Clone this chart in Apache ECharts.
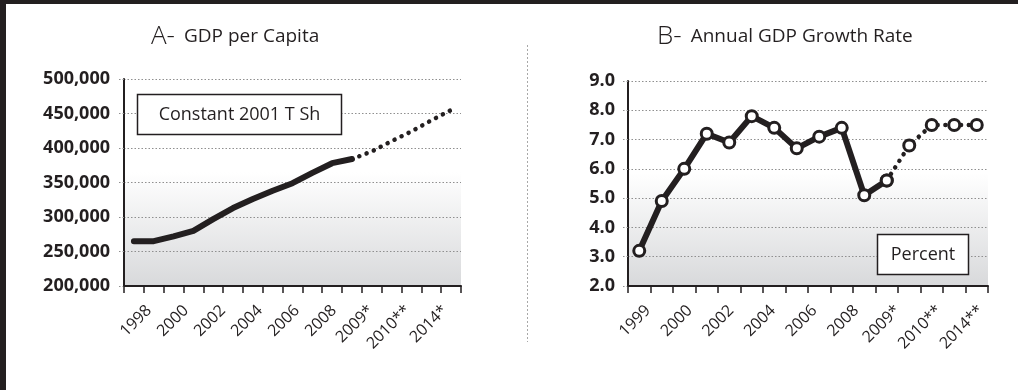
<!DOCTYPE html>
<html>
<head>
<meta charset="utf-8">
<script src="https://cdn.jsdelivr.net/npm/echarts@6/dist/echarts.min.js"></script>
<style>
  html, body { margin: 0; padding: 0; background: #ffffff; }
  #chart { width: 1018px; height: 390px; }
</style>
</head>
<body>
<div id="chart"></div>
<script>
// Panel A: GDP per capita, constant 2001 T Sh
const gdpYears = ['1998', '1999', '2000', '2001', '2002', '2003', '2004', '2005', '2006',
  '2007', '2008', '2009', '2010', '2011', '2012', '2013', '2014'];
const gdpPerCapita = [265000, 265000, 272000, 280000, 297000, 313000, 326000, 338000, 349000,
  364000, 378000, 384000, 395000, 410000, 424000, 440000, 455000];
const gdpLastActual = 11;            // later points are projections (dotted)
const gdpTickLabels = ['1998', '2000', '2002', '2004', '2006', '2008', '2009*', '2010**', '2014*'];

// Panel B: annual GDP growth rate, percent
const growthYears = ['1999', '2000', '2001', '2002', '2003', '2004', '2005', '2006',
  '2007', '2008', '2009', '2010', '2011', '2012', '2013', '2014'];
const growthRate = [3.2, 4.9, 6.0, 7.2, 6.9, 7.8, 7.4, 6.7, 7.1, 7.4, 5.1, 5.6, 6.8, 7.5, 7.5, 7.5];
const growthLastActual = 11;
const growthTickLabels = ['1999', '2000', '2002', '2004', '2006', '2008', '2009*', '2010**', '2014**'];

const ink = '#231f20';
const font = '"Open Sans", "Noto Sans", sans-serif';

const plotFill = new echarts.graphic.LinearGradient(0, 0, 0, 1, [
  { offset: 0, color: '#ffffff' },
  { offset: 0.45, color: '#ffffff' },
  { offset: 1, color: '#d8d9db' }
]);

const gridLine = { show: true, lineStyle: { color: '#8f8f8f', width: 1, type: [1.5, 2] } };

function valueAxis(gridIndex, min, max, interval, fmt, margin) {
  return {
    type: 'value', gridIndex, min, max, interval,
    axisLine: { show: true, lineStyle: { color: ink, width: 2 } },
    axisTick: { show: true, length: 7, lineStyle: { color: '#8f8f8f', width: 1, type: [1.5, 2] } },
    axisLabel: { formatter: fmt, margin, color: ink, fontFamily: font, fontWeight: 'bold', fontSize: 18 },
    splitLine: gridLine
  };
}

function dataAxis(gridIndex, cats) {
  return {
    type: 'category', gridIndex, data: cats, boundaryGap: true,
    axisLine: { show: true, lineStyle: { color: ink, width: 2 } },
    axisTick: { show: true, length: 7, interval: 0, lineStyle: { color: ink, width: 1.5 } },
    axisLabel: { show: false },
    splitLine: { show: false }
  };
}

function labelAxis(gridIndex, labels) {
  return {
    type: 'category', gridIndex, data: labels, boundaryGap: false,
    axisLine: { show: false }, axisTick: { show: false },
    axisLabel: { interval: 0, rotate: 45, margin: 22, color: ink, fontFamily: font, fontSize: 16 }
  };
}

function hiddenY(gridIndex) {
  return { type: 'value', gridIndex, show: false, min: 0, max: 1, splitLine: { show: false } };
}

function panelTitle(left, letter, name) {
  return {
    left, top: 19,
    text: '{big|' + letter + '}{small|' + name + '}',
    textStyle: {
      fontWeight: 'normal',
      rich: {
        big: { fontSize: 26, fontWeight: 300, color: ink, fontFamily: font, padding: [0, 9, 0, 0] },
        small: { fontSize: 19, fontWeight: 'normal', color: ink, fontFamily: font }
      }
    }
  };
}

const solidStyle = { color: ink, width: 6, cap: 'round', join: 'round' };
const dottedStyle = { color: ink, width: 4.5, type: [0.1, 7.7], cap: 'round', join: 'round' };
const ringMarker = { color: '#ffffff', borderColor: ink, borderWidth: 3 };

const option = {
  backgroundColor: '#ffffff',
  animation: false,
  textStyle: { fontFamily: font },
  title: [
    panelTitle(146, 'A-', 'GDP per Capita'),
    panelTitle(652, 'B-', 'Annual GDP Growth Rate')
  ],
  grid: [
    { left: 124, top: 79, width: 337, height: 207, show: true, backgroundColor: plotFill, borderWidth: 0 },
    { left: 628, top: 81, width: 360, height: 205, show: true, backgroundColor: plotFill, borderWidth: 0 },
    { left: 149, top: 79, width: 296, height: 207 },
    { left: 648, top: 81, width: 333, height: 205 }
  ],
  xAxis: [
    dataAxis(0, gdpYears),
    dataAxis(1, growthYears),
    labelAxis(2, gdpTickLabels),
    labelAxis(3, growthTickLabels)
  ],
  yAxis: [
    valueAxis(0, 200000, 500000, 50000, v => v.toLocaleString('en-US'), 14),
    valueAxis(1, 2, 9, 1, v => v.toFixed(1), 13),
    hiddenY(2),
    hiddenY(3)
  ],
  series: [
    {
      type: 'line', xAxisIndex: 0, yAxisIndex: 0, symbol: 'none', silent: true,
      data: gdpPerCapita.map((v, i) => (i <= gdpLastActual ? v : '-')),
      lineStyle: solidStyle
    },
    {
      type: 'line', xAxisIndex: 0, yAxisIndex: 0, symbol: 'none', silent: true,
      data: gdpPerCapita.map((v, i) => (i >= gdpLastActual ? v : '-')),
      lineStyle: dottedStyle
    },
    {
      type: 'line', xAxisIndex: 1, yAxisIndex: 1, symbol: 'circle', symbolSize: 11, silent: true,
      data: growthRate.map((v, i) => (i <= growthLastActual ? v : '-')),
      lineStyle: solidStyle, itemStyle: ringMarker
    },
    {
      type: 'line', xAxisIndex: 1, yAxisIndex: 1, symbol: 'circle', symbolSize: 11, silent: true,
      data: growthRate.map((v, i) => (i >= growthLastActual ? v : '-')),
      lineStyle: dottedStyle, itemStyle: ringMarker
    }
  ],
  graphic: [
    // page frame
    { type: 'rect', shape: { x: 0, y: 0, width: 1018, height: 4 }, style: { fill: ink }, silent: true },
    { type: 'rect', shape: { x: 0, y: 0, width: 6, height: 390 }, style: { fill: ink }, silent: true },
    // divider between the panels
    { type: 'line', shape: { x1: 527.5, y1: 45, x2: 527.5, y2: 342 },
      style: { stroke: '#a8a8a8', lineWidth: 1, lineDash: [2, 2] }, silent: true },
    // unit boxes
    { type: 'rect', z: 10, shape: { x: 137.5, y: 94.5, width: 204, height: 40 },
      style: { fill: '#ffffff', stroke: ink, lineWidth: 1.5 }, silent: true },
    { type: 'text', z: 11, x: 239.5, y: 114.5,
      style: { text: 'Constant 2001 T Sh', fill: ink, font: '18px ' + font, align: 'center', verticalAlign: 'middle' }, silent: true },
    { type: 'rect', z: 10, shape: { x: 877.5, y: 234.5, width: 91, height: 40 },
      style: { fill: '#ffffff', stroke: ink, lineWidth: 1.5 }, silent: true },
    { type: 'text', z: 11, x: 923, y: 254.5,
      style: { text: 'Percent', fill: ink, font: '18px ' + font, align: 'center', verticalAlign: 'middle' }, silent: true }
  ]
};

const chart = echarts.init(document.getElementById('chart'), null, { renderer: 'canvas' });
chart.setOption(option);
</script>
</body>
</html>
